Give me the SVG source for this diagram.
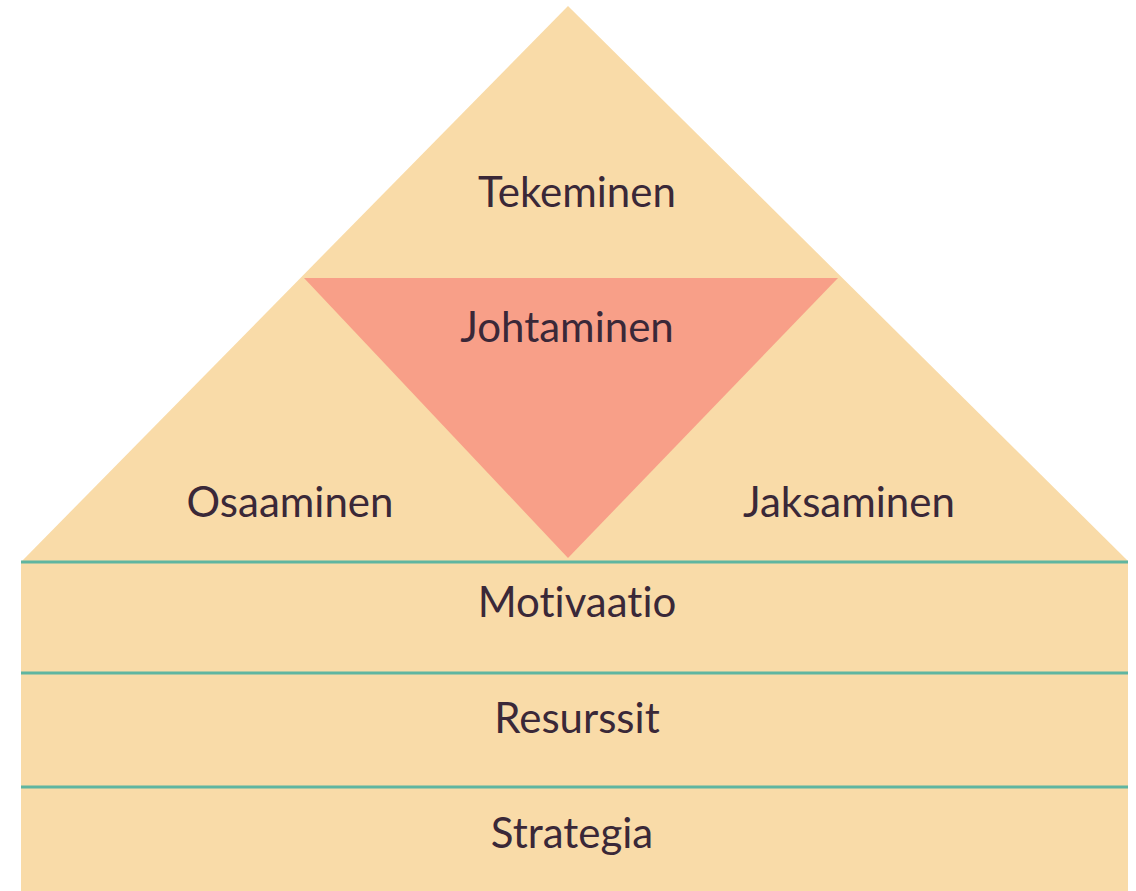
<svg xmlns="http://www.w3.org/2000/svg" width="1136" height="891" viewBox="0 0 1136 891">
<style>
.base{fill:#f9dba8}
.mid{fill:#f89f88}
.sep{stroke:#5fb5a0;stroke-width:3;fill:none}
.lbl{font-family:Lato,"Open Sans","Liberation Sans",sans-serif;font-size:42px;fill:#3a2838;text-anchor:middle;font-variant-ligatures:none}
</style>
<rect width="1136" height="891" fill="#ffffff"/>
<g id="roof">
<polygon class="base" points="568,6 1128,561 22,561"/>
</g>
<g id="johtaminen">
<polygon class="mid" points="304,278 838,278 568,558"/>
<text class="lbl" x="567" y="342">Johtaminen</text>
</g>
<g id="tekeminen"><text class="lbl" x="577" y="207">Tekeminen</text></g>
<g id="osaaminen"><text class="lbl" x="290" y="517">Osaaminen</text></g>
<g id="jaksaminen"><text class="lbl" x="849" y="517">Jaksaminen</text></g>
<g id="motivaatio">
<rect class="base" x="21" y="562" width="1107" height="111"/>
<text class="lbl" x="577" y="617">Motivaatio</text>
</g>
<g id="resurssit">
<rect class="base" x="21" y="673" width="1107" height="114"/>
<text class="lbl" x="577" y="733">Resurssit</text>
</g>
<g id="strategia">
<rect class="base" x="21" y="787" width="1107" height="104"/>
<text class="lbl" x="572" y="848">Strategia</text>
</g>
<g id="connectors">
<line class="sep" x1="21" y1="562" x2="1128" y2="562"/>
<line class="sep" x1="21" y1="673" x2="1128" y2="673"/>
<line class="sep" x1="21" y1="787" x2="1128" y2="787"/>
</g>
</svg>
